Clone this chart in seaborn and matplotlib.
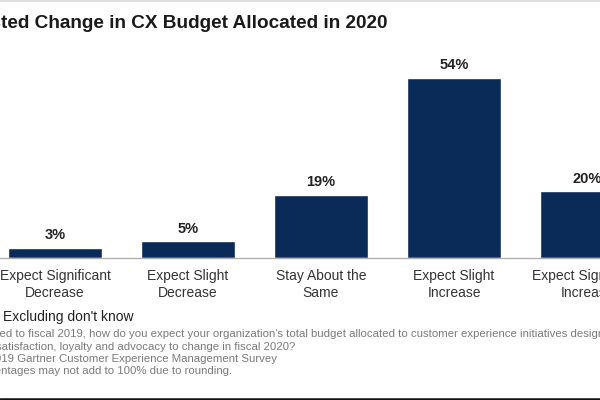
import matplotlib
matplotlib.use("Agg")
import matplotlib.pyplot as plt
import seaborn as sns
import pandas as pd

categories = ["Expect Significant\nDecrease", "Expect Slight\nDecrease", "Stay About the\nSame",
              "Expect Slight\nIncrease", "Expect Significant\nIncrease"]
values = [3, 5, 19, 54, 20]
title_text = "Expected Change in CX Budget Allocated in 2020"
foot_lines = [
    "Excluding don't know",
    "Q: Compared to fiscal 2019, how do you expect your organization's total budget allocated to customer experience initiatives designed to improve customer",
    "satisfaction, loyalty and advocacy to change in fiscal 2020?",
    "Source: 2019 Gartner Customer Experience Management Survey",
    "Note: Percentages may not add to 100% due to rounding.",
]
# hidden prefixes (cut off by the screenshot's left edge)
foot_prefix = ["", "Q: Compar", "s", "Source: 20", "Note: Perce"]

sns.set_theme(style="white")
plt.rcParams['font.family'] = ['Liberation Sans', 'DejaVu Sans']

W, H = 600, 400
fig = plt.figure(figsize=(6, 4), dpi=100)
fig.patch.set_facecolor("white")

ax = fig.add_axes([-11.5 / W, 142 / H, 665 / W, 200 / H])
df = pd.DataFrame({"cat": categories, "val": values})
sns.barplot(data=df, x="cat", y="val", color="#0a2a57", saturation=1, width=0.71, ax=ax)
ax.set_xlim(-0.5, 4.5)
ax.set_ylim(0, 60)
for c in ax.containers:
    ax.bar_label(c, fmt="%d%%", padding=4, fontsize=10.5, fontweight="bold", color="#222222")
ax.set_xlabel("")
ax.set_ylabel("")
ax.set_yticks([])
ax.tick_params(axis="x", length=0, pad=8, labelsize=10, labelcolor="#333333")
for lab in ax.get_xticklabels():
    lab.set_linespacing(1.3)
for s in ["top", "left", "right"]:
    ax.spines[s].set_visible(False)
ax.spines["bottom"].set_color("#b0b0b0")
ax.spines["bottom"].set_linewidth(1)
ax.patch.set_alpha(0)

# title (right end visible at x=388px)
fig.text(388 / W, 1 - 27.5 / H, title_text, ha="right", va="baseline",
         fontsize=13.7, fontweight="bold", color="#1a1a1a")

# footnotes
renderer = fig.canvas.get_renderer()
ys = [320.5, 337, 349.5, 362, 374.5]
sizes = [10, 8.2, 8.2, 8.2, 8.2]
colors = ["#222222", "#7a7a7a", "#7a7a7a", "#7a7a7a", "#7a7a7a"]
extra = [1.5, -2.5, 0, 0, 0]
for line, pre, y, fs, col, ex in zip(foot_lines, foot_prefix, ys, sizes, colors, extra):
    shift = 0
    if pre:
        t = fig.text(0, 0, pre, fontsize=fs)
        shift = t.get_window_extent(renderer).width
        t.remove()
    fig.text((1.5 + ex - shift) / W, 1 - y / H, line, ha="left", va="baseline", fontsize=fs, color=col)

# border lines
fig.add_artist(plt.Line2D([0, 1], [1 - 1 / H, 1 - 1 / H], color="#d8d8d8", lw=1.2, transform=fig.transFigure))
fig.add_artist(plt.Line2D([0, 1], [1 - 398.5 / H, 1 - 398.5 / H], color="#111111", lw=1.8, transform=fig.transFigure))

fig.savefig("out.png", dpi=100, facecolor="white")
